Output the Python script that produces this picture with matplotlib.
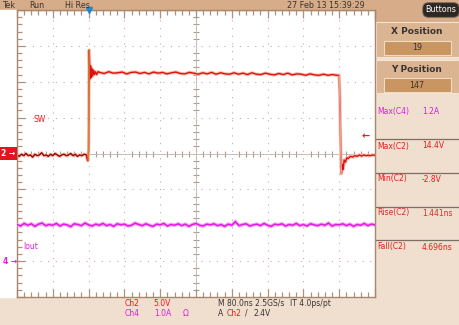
import numpy as np
import matplotlib

matplotlib.use("Agg")
import matplotlib.pyplot as plt  # noqa: E402
from matplotlib.patches import Rectangle  # noqa: E402
from matplotlib.transforms import blended_transform_factory  # noqa: E402

W, H = 459, 325

# ---- scope settings -------------------------------------------------------
NS_PER_DIV = 80.0
CH2_V_PER_DIV = 5.0
CH4_A_PER_DIV = 1.0
CH4_OFFSET_DIV = -3.0
TRIG_T = 0.0
TRIG_LEVEL = 2.4

# ---- Ch2 (SW node) trace, ns / V ------------------------------------------
pre_t = list(np.arange(-160, -4, 5))
pre_v = [-0.2, -0.4, -0.1, -0.3, 0.0, -0.3, -0.2, -0.5, -0.1, -0.3,
         -0.2, 0.1, -0.3, -0.2, -0.4, -0.1, -0.3, 0.0, -0.2, -0.4,
         -0.2, -0.1, -0.3, -0.2, 0.0, -0.3, -0.1, -0.4, -0.2, -0.3,
         -0.1, -0.2]
rise_t = [-4, -2, -1, 0.0, 0.6, 1.2, 2, 3, 4.5, 6, 7.5, 9, 11, 13, 15, 18, 21]
rise_v = [-0.6, -1.0, -0.9, 0.5, 8.0, 14.4, 13.0, 10.4, 12.2, 10.6, 11.8,
          10.8, 11.6, 11.0, 11.4, 11.0, 11.4]
flat_t = list(np.arange(25, 556, 10))
flat_v = [11.3, 11.15, 11.4, 11.2, 11.25, 11.35, 11.1, 11.3, 11.35, 11.15,
          11.3, 11.1, 11.35, 11.2, 11.3, 11.1, 11.25, 11.35, 11.15, 11.1,
          11.3, 11.2, 11.05, 11.25, 11.1, 11.3, 11.05, 11.25, 11.1, 11.05,
          11.25, 11.05, 11.2, 11.0, 11.25, 11.05, 11.0, 11.2, 11.05, 10.95,
          11.15, 11.0, 11.2, 10.95, 11.1, 11.05, 10.9, 11.1, 10.95, 10.9,
          11.05, 10.9, 11.0, 10.9]
fall_t = [560, 562, 563.5, 565, 567, 569, 571, 574, 577, 580, 585, 590, 595,
          600, 605, 610, 615, 620, 625, 630, 635, 640]
fall_v = [10.9, 6.0, 0.0, -2.8, -1.5, -2.2, -0.9, -1.2, -0.6, -0.7, -0.4,
          -0.5, -0.3, -0.4, -0.2, -0.35, -0.2, -0.3, -0.25, -0.3, -0.2, -0.25]

ch2_t = np.array(pre_t + rise_t + flat_t + fall_t, dtype=float)
ch2_v = np.array(pre_v + rise_v + flat_v + fall_v, dtype=float)

# ---- Ch4 (Iout) trace, ns / A ---------------------------------------------
ch4_t = np.arange(-160, 641, 8)
ch4_a = [1.02, 0.98, 1.05, 1.00, 1.04, 0.97, 1.03, 1.06, 0.99, 1.02,
         1.00, 1.05, 0.98, 1.03, 1.01, 0.96, 1.04, 1.02, 0.99, 1.06,
         1.01, 0.98, 1.03, 1.00, 1.05, 0.99, 1.02, 0.97, 1.04, 1.01,
         1.03, 0.98, 1.00, 1.06, 1.02, 0.99, 1.04, 1.00, 0.97, 1.03,
         1.01, 1.05, 0.98, 1.02, 1.00, 1.04, 0.99, 1.03, 0.97, 1.02,
         1.05, 1.00, 0.98, 1.03, 1.01, 1.04, 0.99, 1.02, 0.97, 1.03,
         1.00, 1.10, 0.99, 1.02, 1.04, 0.98, 1.01, 1.03, 0.99, 1.05,
         1.00, 0.97, 1.03, 1.01, 1.04, 0.98, 1.02, 1.00, 1.05, 0.99,
         1.02, 0.98, 1.04, 1.01, 0.99, 1.03, 1.00, 1.06, 0.98, 1.02,
         1.01, 1.04, 0.99, 1.03, 0.97, 1.02, 1.00, 1.05, 0.99, 1.03, 1.01]

# ---- readouts ---------------------------------------------------------------
meas_labels = ["Max(C4)", "Max(C2)", "Min(C2)", "Rise(C2)", "Fall(C2)"]
meas_values = ["1.2A", "14.4V", "-2.8V", "1.441ns", "4.696ns"]
x_position = "19"
y_position = "147"

RED = "#e81c1c"
MAG = "#e01ce0"
DARK = "#3a3230"
HEAD = "#d6ad88"
LIGHT = "#f0dfcf"
meas_colors = [MAG, RED, RED, "#d0302a", RED]


def fx(px):
    return px / W


def fy(py):
    return 1 - py / H


fig = plt.figure(figsize=(W / 100, H / 100), dpi=100, facecolor=LIGHT)

# header, white left margin and side panel blocks
fig.patches.append(Rectangle((0, fy(10)), 1, fy(0) - fy(10), transform=fig.transFigure,
                             color=HEAD, zorder=0))
fig.patches.append(Rectangle((0, fy(297)), fx(17), fy(10) - fy(297),
                             transform=fig.transFigure, color="white", zorder=0))
fig.patches.append(Rectangle((fx(375), fy(21)), 1 - fx(375), fy(0) - fy(21),
                             transform=fig.transFigure, color=HEAD, zorder=0))
for top, bot in [(22, 57), (60, 93)]:
    fig.patches.append(Rectangle((fx(376), fy(bot)), 1 - fx(376), fy(top) - fy(bot),
                                 transform=fig.transFigure, facecolor="#dbb592",
                                 edgecolor="#f3e4d4", lw=0.8, zorder=0))
for top, bot in [(41, 55), (78, 92)]:
    fig.patches.append(Rectangle((fx(384), fy(bot)), fx(451) - fx(384), fy(top) - fy(bot),
                                 transform=fig.transFigure, facecolor="#c99560",
                                 edgecolor="#f0dcc6", lw=0.8, zorder=0))

pos = [fx(17), fy(297), fx(375) - fx(17), fy(10) - fy(297)]
xlim = (-2 * NS_PER_DIV, 8 * NS_PER_DIV)
ylim = (-4 * CH2_V_PER_DIV, 4 * CH2_V_PER_DIV)

# graticule: background, dotted grid and centre cross
cx = fig.add_axes(pos, facecolor="white", zorder=0)
cx.set_xlim(*xlim)
cx.set_ylim(*ylim)
cx.set_xticks(np.arange(xlim[0], xlim[1] + 1, NS_PER_DIV))
cx.set_yticks(np.arange(ylim[0], ylim[1] + 1, CH2_V_PER_DIV))
cx.set_xticks(np.arange(xlim[0], xlim[1] + 1, NS_PER_DIV / 5), minor=True)
cx.set_yticks(np.arange(ylim[0], ylim[1] + 1, CH2_V_PER_DIV / 5), minor=True)
cx.grid(True, which="major", color="#c9a6b4", lw=0.8, linestyle=(0, (1, 5.9)))
cx.spines["left"].set_position(("data", sum(xlim) / 2))
cx.spines["bottom"].set_position(("data", 0))
cx.spines["top"].set_visible(False)
cx.spines["right"].set_visible(False)
for s in ("left", "bottom"):
    cx.spines[s].set_color("#c2b6ae")
    cx.spines[s].set_linewidth(0.6)
cx.tick_params(which="both", direction="inout", colors="#a89a90",
               labelbottom=False, labelleft=False)
cx.tick_params(which="major", length=0)
cx.tick_params(which="minor", length=5, width=0.8)

# channel axes
ax = fig.add_axes(pos, facecolor="none", zorder=1)
ax.set_xticks(cx.get_xticks())
ax.set_yticks(cx.get_yticks())
ax.set_xticks(cx.get_xticks(minor=True), minor=True)
ax.set_yticks(cx.get_yticks(minor=True), minor=True)
ax.set_xlim(*xlim)
ax.set_ylim(*ylim)
ax.tick_params(which="both", direction="in", top=True, right=True,
               labelbottom=False, labelleft=False, colors="#b0907c")
ax.tick_params(which="major", length=6, width=0.9)
ax.tick_params(which="minor", length=3.5, width=0.9)
for s in ax.spines.values():
    s.set_color("#a8876c")
    s.set_linewidth(1.0)

ax4 = ax.twinx()
ax4.set_ylim((-4 - CH4_OFFSET_DIV) * CH4_A_PER_DIV, (4 - CH4_OFFSET_DIV) * CH4_A_PER_DIV)
ax4.set_yticks([])
for s in ax4.spines.values():
    s.set_visible(False)

# Ch4 current
ax4.plot(ch4_t, ch4_a, color="#f4a8f0", lw=2.6, solid_joinstyle="miter")
ax4.plot(ch4_t, ch4_a, color=MAG, lw=1.1)

# Ch2 switch node
ax.plot(ch2_t, ch2_v, color="#f3bfae", lw=2.4)
ax.plot(ch2_t, ch2_v, color="#e01010", lw=1.0)
n_pre = len(pre_t)
ax.plot(ch2_t[:n_pre], ch2_v[:n_pre], color="#6a1410", lw=0.6)
i0 = n_pre + 2
ax.plot(ch2_t[i0:i0 + 4], ch2_v[i0:i0 + 4], color="#d9843c", lw=1.0)
j0 = n_pre + len(rise_t) + len(flat_t)
ax.plot(ch2_t[j0:j0 + 4], ch2_v[j0:j0 + 4], color="#eaa090", lw=1.0)

# trace labels
ax.text(-124, 4.7, "SW", color=RED, fontsize=5.5, va="center")
ax4.text(-146, 0.4, "Iout", color=MAG, fontsize=5.5, va="center")

# ground / trigger markers
tr2 = blended_transform_factory(fig.transFigure, ax.transData)
ax.text(fx(1), 0, "2 →", transform=tr2, color="white", fontsize=5.5, va="center",
        fontweight="bold",
        bbox=dict(boxstyle="square,pad=0.25", facecolor="#e4141c", edgecolor="none"),
        clip_on=False)
tr4 = blended_transform_factory(fig.transFigure, ax4.transData)
ax4.text(fx(3), 0, "4 →", transform=tr4, color=MAG, fontsize=5.5, va="center",
         fontweight="bold", clip_on=False)
ax.text(0.985, TRIG_LEVEL, "←", transform=blended_transform_factory(ax.transAxes, ax.transData),
        color=RED, fontsize=7, fontweight="bold", ha="right", va="center")
ax.plot([TRIG_T], [1.0], transform=blended_transform_factory(ax.transData, ax.transAxes),
        marker="v", markersize=4.5, color="#1a88d8", clip_on=False, zorder=5)

# header text
for px, s in [(2, "Tek"), (29, "Run"), (65, "Hi Res"), (287, "27 Feb 13 15:39:29")]:
    fig.text(fx(px), fy(5), s, fontsize=5.8, color=DARK, va="center")
fig.text(fx(441), fy(10), "Buttons", fontsize=5.8, color="white", ha="center", va="center",
         bbox=dict(boxstyle="round,pad=0.35,rounding_size=0.7", facecolor="#2e2824",
                   edgecolor="#7a6a5e", lw=0.6))

# side panel text
fig.text(fx(417), fy(32), "X Position", fontsize=6.5, fontweight="bold", color=DARK,
         ha="center", va="center")
fig.text(fx(417), fy(48), x_position, fontsize=5.8, color=DARK, ha="center", va="center")
fig.text(fx(417), fy(69), "Y Position", fontsize=6.5, fontweight="bold", color=DARK,
         ha="center", va="center")
fig.text(fx(417), fy(85), y_position, fontsize=5.8, color=DARK, ha="center", va="center")
meas_y = [112, 146, 179, 213, 247]
for py, lab, val, col in zip(meas_y, meas_labels, meas_values, meas_colors):
    fig.text(fx(377), fy(py), lab, fontsize=5.5, color=col, va="center")
    fig.text(fx(422), fy(py), val, fontsize=5.5, color=col, va="center")
for py in [139, 173, 207, 240]:
    fig.add_artist(plt.Line2D([fx(376), 1], [fy(py), fy(py)], color="#7d6e62", lw=0.9))

# bottom readout
bottom = [(125, 303, "Ch2", RED), (153, 303, "5.0V", RED),
          (125, 313, "Ch4", MAG), (154, 313, "1.0A", MAG), (183, 313, "Ω", MAG),
          (218, 303, "M 80.0ns 2.5GS/s", DARK), (290, 303, "IT 4.0ps/pt", DARK),
          (218, 313, "A", DARK), (227, 313, "Ch2", RED), (245, 313, "/", DARK),
          (254, 313, "2.4V", DARK)]
for px, py, s, col in bottom:
    fig.text(fx(px), fy(py), s, fontsize=5.5, color=col, va="center")

fig.savefig("out.png", dpi=100, facecolor=LIGHT)
